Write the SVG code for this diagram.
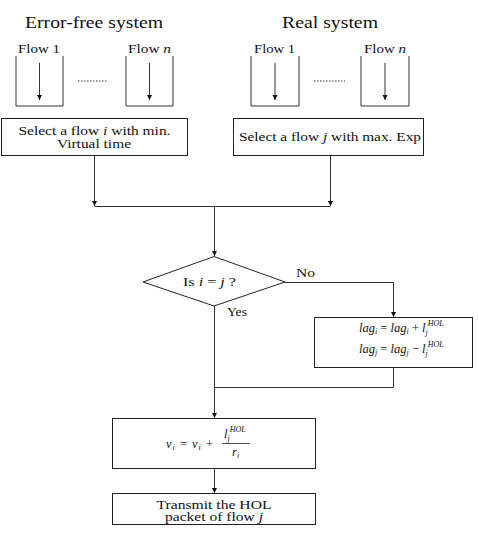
<svg xmlns="http://www.w3.org/2000/svg" width="478" height="534" viewBox="0 0 478 534">
<style>
text{font-family:"Liberation Serif","Times New Roman",serif;fill:#111}
.t{font-size:16.5px}
.f{font-size:12.5px}
.b{font-size:13.5px}
.b2{font-size:12px}
.m{font-size:12.5px}
.i{font-style:italic}
.s{font-size:8px}
.box{fill:#fff;stroke:#222;stroke-width:1}
.q{fill:none;stroke:#333;stroke-width:1}
.c{fill:none;stroke:#333;stroke-width:1}
.dots{stroke:#333;stroke-width:1;stroke-dasharray:1.5 1.5}
</style>
<defs>
<marker id="ah" markerWidth="6" markerHeight="6" refX="5" refY="3" orient="auto" markerUnits="userSpaceOnUse">
<path d="M0,0.5 L5,3 L0,5.5 Z" fill="#111"/>
</marker>
</defs>
<text class="t" x="94" y="27.5" text-anchor="middle" textLength="138" lengthAdjust="spacingAndGlyphs">Error-free system</text>
<text class="t" x="330" y="27.5" text-anchor="middle" textLength="96" lengthAdjust="spacingAndGlyphs">Real system</text>
<g id="queue-e1">
<text class="f" x="39" y="52.5" text-anchor="middle" textLength="42" lengthAdjust="spacingAndGlyphs">Flow 1</text>
<path class="q" d="M16,56 V106 H63 V56"/>
</g>
<g id="queue-en">
<text class="f" x="149.5" y="52.5" text-anchor="middle" textLength="43" lengthAdjust="spacingAndGlyphs">Flow <tspan class="i">n</tspan></text>
<path class="q" d="M126,56 V106 H173 V56"/>
</g>
<line class="dots" x1="78" y1="81" x2="108" y2="81"/>
<g id="queue-r1">
<text class="f" x="274.5" y="52.5" text-anchor="middle" textLength="41" lengthAdjust="spacingAndGlyphs">Flow 1</text>
<path class="q" d="M251,56 V106 H299 V56"/>
</g>
<g id="queue-rn">
<text class="f" x="385" y="52.5" text-anchor="middle" textLength="42" lengthAdjust="spacingAndGlyphs">Flow <tspan class="i">n</tspan></text>
<path class="q" d="M361,56 V106 H409 V56"/>
</g>
<line class="dots" x1="314" y1="81" x2="345" y2="81"/>
<g id="select-min">
<rect class="box" x="1.5" y="118.5" width="186" height="37"/>
<text class="b2" x="94.5" y="135" text-anchor="middle" textLength="152" lengthAdjust="spacingAndGlyphs">Select a flow <tspan class="i">i</tspan> with min.</text>
<text class="b2" x="94" y="148" text-anchor="middle" textLength="74" lengthAdjust="spacingAndGlyphs">Virtual time</text>
</g>
<g id="select-max">
<rect class="box" x="233.5" y="118.5" width="190" height="37"/>
<text class="b" x="330" y="141" text-anchor="middle" textLength="182" lengthAdjust="spacingAndGlyphs">Select a flow <tspan class="i">j</tspan> with max. Exp</text>
</g>
<g id="decision">
<polygon class="box" points="214,256.5 285,282 214,306 143,282"/>
<text class="b" x="209.5" y="286" text-anchor="middle" textLength="53" lengthAdjust="spacingAndGlyphs">Is <tspan class="i">i</tspan> = <tspan class="i">j</tspan> ?</text>
</g>
<g id="lag-update">
<rect class="box" x="314.5" y="317.5" width="158" height="50"/>
<text class="m" x="359" y="332"><tspan class="i">lag</tspan><tspan class="i s" dy="2">i</tspan><tspan dy="-2"> = </tspan><tspan class="i">lag</tspan><tspan class="i s" dy="2">i</tspan><tspan dy="-2"> + </tspan><tspan class="i">l</tspan><tspan class="i s" dy="3">j</tspan><tspan class="i s" dy="-9">HOL</tspan></text>
<text class="m" x="359" y="353"><tspan class="i">lag</tspan><tspan class="i s" dy="2">j</tspan><tspan dy="-2"> = </tspan><tspan class="i">lag</tspan><tspan class="i s" dy="2">j</tspan><tspan dy="-2"> − </tspan><tspan class="i">l</tspan><tspan class="i s" dy="3">j</tspan><tspan class="i s" dy="-9">HOL</tspan></text>
</g>
<g id="virtual-update">
<rect class="box" x="112.5" y="418.5" width="203" height="50"/>
<text class="m" x="166" y="448" textLength="47" lengthAdjust="spacing"><tspan class="i">v</tspan><tspan class="i s" dy="2">i</tspan><tspan dy="-2"> = </tspan><tspan class="i">v</tspan><tspan class="i s" dy="2">i</tspan><tspan dy="-2"> + </tspan></text>
<text class="m" x="224" y="438"><tspan class="i">l</tspan><tspan class="i s" dy="3">j</tspan><tspan class="i s" dy="-9">HOL</tspan></text>
<line x1="222" y1="443.5" x2="250" y2="443.5" stroke="#222" stroke-width="0.8"/>
<text class="m" x="232" y="456"><tspan class="i">r</tspan><tspan class="i s" dy="2">i</tspan></text>
</g>
<g id="transmit">
<rect class="box" x="112.5" y="493.5" width="203" height="31"/>
<text class="b2" x="214" y="508.5" text-anchor="middle" textLength="115" lengthAdjust="spacingAndGlyphs">Transmit the HOL</text>
<text class="b2" x="214" y="521" text-anchor="middle" textLength="98" lengthAdjust="spacingAndGlyphs">packet of flow <tspan class="i">j</tspan></text>
</g>
<g id="connectors">
<line class="c" x1="39.5" y1="63" x2="39.5" y2="100" marker-end="url(#ah)"/>
<line class="c" x1="149.5" y1="63" x2="149.5" y2="100" marker-end="url(#ah)"/>
<line class="c" x1="275" y1="63" x2="275" y2="100" marker-end="url(#ah)"/>
<line class="c" x1="385" y1="63" x2="385" y2="100" marker-end="url(#ah)"/>
<line class="c" x1="94.5" y1="156" x2="94.5" y2="206" marker-end="url(#ah)"/>
<line class="c" x1="330.5" y1="156" x2="330.5" y2="206" marker-end="url(#ah)"/>
<line class="c" x1="94.5" y1="206.5" x2="330.5" y2="206.5"/>
<line class="c" x1="214.5" y1="206.5" x2="214.5" y2="256" marker-end="url(#ah)"/>
<polyline class="c" points="285,282.5 393.5,282.5 393.5,317" marker-end="url(#ah)"/>
<line class="c" x1="214.5" y1="306" x2="214.5" y2="418" marker-end="url(#ah)"/>
<polyline class="c" points="393.5,368 393.5,387.5 214.5,387.5"/>
<line class="c" x1="214.5" y1="469" x2="214.5" y2="493" marker-end="url(#ah)"/>
</g>
<text class="b" x="296" y="277" textLength="19" lengthAdjust="spacingAndGlyphs">No</text>
<text class="b" x="227" y="316" textLength="20" lengthAdjust="spacingAndGlyphs">Yes</text>
</svg>
